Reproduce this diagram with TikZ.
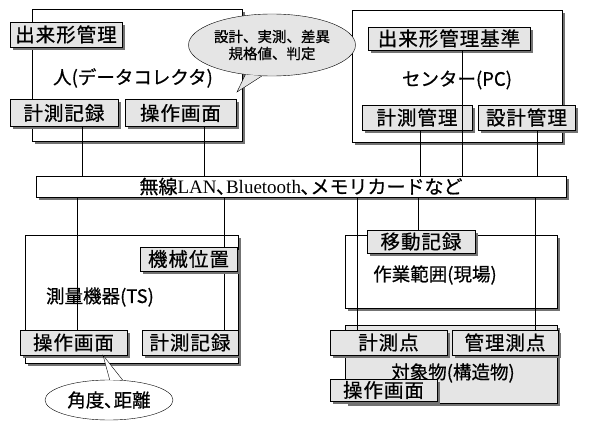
\documentclass[tikz,border=0pt]{standalone}
\usepackage{fontspec}
\setmainfont{Noto Sans CJK JP}[FakeBold=0.6]
\newfontfamily\tagfont[LetterSpace=5,FakeBold=0.6]{Noto Sans CJK JP}
\newfontfamily\romanfont{Liberation Serif}
\usetikzlibrary{shapes.geometric,shadows}

\begin{document}
\begin{tikzpicture}[
    x=1pt, y=-1pt,
    outerbox/.style={draw, fill=white, inner sep=0pt,
        drop shadow={shadow xshift=3pt, shadow yshift=-3pt, fill=black!55, opacity=1}},
    tag/.style={draw, fill=black!10, inner sep=0pt, minimum height=25pt,
        font=\tagfont\fontsize{19.5}{21}\selectfont,
        drop shadow={shadow xshift=3pt, shadow yshift=-3pt, fill=black!55, opacity=1}},
    boxtext/.style={font=\fontsize{18.5}{21}\selectfont},
    bubble/.style={ellipse, draw, inner sep=0pt, align=center},
    wire/.style={draw, line width=0.6pt}
]
\useasboundingbox (0,0) rectangle (590,428);

% Outer boxes
\node[outerbox, minimum width=210pt, minimum height=132pt] (dc) at (137,75) {};
\node[outerbox, minimum width=210pt, minimum height=132pt] (pc) at (457,76) {};
\node[outerbox, minimum width=213pt, minimum height=128pt] (ts) at (131.5,299) {};
\node[outerbox, minimum width=212pt, minimum height=73pt] (genba) at (451,271.5) {};
\node[outerbox, fill=black!10, minimum width=212pt, minimum height=78pt] (taisho) at (451,364) {};

% Network bar
\node[outerbox, minimum width=530pt, minimum height=21pt, font=\fontsize{19}{20}\selectfont] (bar) at (301,186.5)
    {無線{\romanfont LAN}､{\romanfont Bluetooth}､メモリカードなど};

% Box names
\node[boxtext] (dcname) at (133,78) {人(データコレクタ)};
\node[boxtext] (pcname) at (457,80) {センター(PC)};
\node[boxtext] (tsname) at (100,297) {測量機器(TS)};
\node[boxtext] (genbaname) at (435,275) {作業範囲(現場)};
\node[boxtext] (taishoname) at (453,373) {対象物(構造物)};

% Wire positions
\coordinate (p1) at (82,0);
\coordinate (p2) at (204,0);
\coordinate (p3) at (420,0);
\coordinate (p4) at (462,0);
\coordinate (p5) at (537,0);
\coordinate (q1) at (77,0);
\coordinate (q2) at (224,0);
\coordinate (q3) at (357,0);
\coordinate (q4) at (418,0);
\coordinate (q5) at (535,0);

% Upper tags
\node[tag, minimum width=112pt] (dekimon) at (66,34.5) {出来形管理};
\node[tag, minimum width=108pt, minimum height=27pt] (kiroku1) at (64,113) {計測記録};
\node[tag, minimum width=111pt, minimum height=27pt] (sousa1) at (180.5,113) {操作画面};
\node[tag, minimum width=162pt, minimum height=23pt] (kijun) at (449,38.5) {出来形管理基準};
\node[tag, minimum width=110pt] (kanri1) at (417,117.5) {計測管理};
\node[tag, minimum width=97pt] (sekkei) at (526.5,117.5) {設計管理};

% Connections
\draw[wire] (kiroku1.south -| p1) -- (bar.north -| p1);
\draw[wire] (sousa1.south -| p2) -- (bar.north -| p2);
\draw[wire] (kanri1.south -| p3) -- (bar.north -| p3);
\draw[wire] (kijun.south -| p4) -- (bar.north -| p4);
\draw[wire] (sekkei.south -| p5) -- (bar.north -| p5);
\draw[wire] (bar.south -| q1) -- (342,330 -| q1);
\draw[wire] (bar.south -| q2) -- (342,330 -| q2);
\draw[wire] (bar.south -| q3) -- (342,330 -| q3);
\draw[wire] (bar.south -| q4) -- (342,230 -| q4);
\draw[wire] (bar.south -| q5) -- (342,330 -| q5);

% Lower tags
\node[tag, minimum width=97pt, minimum height=24pt] (kikai) at (188.5,259) {機械位置};
\node[tag, minimum width=107pt] (sousa2) at (73.5,342.5) {操作画面};
\node[tag, minimum width=96pt] (kiroku2) at (190,342.5) {計測記録};
\node[tag, minimum width=108pt, minimum height=23pt] (idou) at (421,241.5) {移動記録};
\node[tag, minimum width=117pt] (sokuten) at (388.5,342.5) {計測点};
\node[tag, minimum width=106pt] (kanri2) at (505,342.5) {管理測点};
\node[tag, minimum width=107pt, minimum height=22pt] (sousa3) at (383.5,390) {操作画面};

% Callouts
\node[bubble, fill=black!10, minimum width=167pt, minimum height=62pt,
      font=\fontsize{14.5}{17}\selectfont] (memo1) at (272,45) {設計、実測、差異\\規格値、判定};
\coordinate (tip1) at (237,92);
\draw[fill=black!10] (memo1.252) -- (tip1) -- (memo1.228);

\node[bubble, fill=white, minimum width=128pt, minimum height=40pt,
      font=\fontsize{18.5}{20}\selectfont] (memo2) at (109,400) {角度､距離};
\draw[fill=white] (memo2.88) -- (sousa2.south -| 103,0) -- (memo2.55);
\end{tikzpicture}
\end{document}
